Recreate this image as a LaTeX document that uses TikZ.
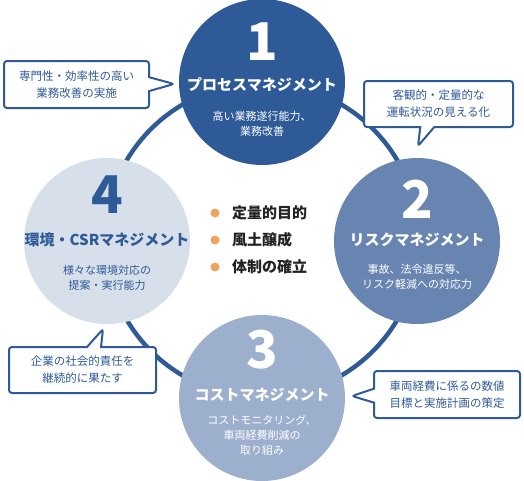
\documentclass[tikz,border=0pt]{standalone}
\usepackage{fontspec}
\setmainfont{Noto Sans CJK JP}
\usepackage{tikz}
\usetikzlibrary{shapes.callouts,positioning}
\definecolor{navy}{HTML}{2E5B98}
\definecolor{steel}{HTML}{6885B2}
\definecolor{haze}{HTML}{9CAFCC}
\definecolor{mist}{HTML}{D7DFEA}
\definecolor{dotorange}{HTML}{F0A35A}
\definecolor{ink}{HTML}{222222}

\begin{document}
\begin{tikzpicture}[x=1pt, y=-1pt,
  ring/.style={circle, draw=navy, line width=4.5pt, minimum size=314pt, inner sep=0pt},
  stage/.style={circle, minimum size=166pt, inner sep=0pt},
  num/.style={font=\bfseries\fontsize{52}{52}\selectfont, inner sep=0pt},
  title/.style={font=\bfseries\fontsize{15}{15}\selectfont, inner sep=0pt},
  sub/.style={font=\fontsize{11}{15}\selectfont, align=center, inner sep=0pt},
  note/.style={rectangle callout, draw=navy, line width=2pt, fill=white, rounded corners=3pt,
    text=navy, font=\fontsize{11.5}{17}\selectfont, align=center,
    callout pointer width=14pt, inner sep=0pt},
  dot/.style={circle, fill=dotorange, minimum size=9pt, inner sep=0pt},
  goal/.style={font=\bfseries\fontsize{15}{15}\selectfont, text=ink, anchor=west, inner sep=0pt}]
  \useasboundingbox (0,0) rectangle (524,480);

  \node[ring] (ring) at (262,240) {};

  \node[stage, fill=navy] (s1) at (262,82) {};
  \node[stage, fill=steel] (s2) at (417,241) {};
  \node[stage, fill=haze] (s3) at (262,398) {};
  \node[stage, fill=mist] (s4) at (107,241) {};

  \node[num, text=white] (n1) at (262,42) {1};
  \node[title, text=white] (t1) at (262,85) {プロセスマネジメント};
  \node[sub, text=white] (d1) at (262,124) {高い業務遂行能力、\\業務改善};

  \node[num, text=white] (n2) at (417,199) {2};
  \node[title, text=white] (t2) at (417,240) {リスクマネジメント};
  \node[sub, text=white] (d2) at (417,277) {事故、法令違反等、\\リスク軽減への対応力};

  \node[num, text=white] (n3) at (262,350) {3};
  \node[title, text=white] (t3) at (262,395) {コストマネジメント};
  \node[sub, text=white] (d3) at (262,435) {コストモニタリング、\\車両経費削減の\\取り組み};

  \node[num, text=navy] (n4) at (107,195) {4};
  \node[title, text=navy] (t4) at (107,240) {環境・CSRマネジメント};
  \node[sub, text=navy] (d4) at (107,278) {様々な環境対応の\\提案・実行能力};

  \node[dot] (b1) at (215,213) {};
  \node[dot] (b2) at (215,240) {};
  \node[dot] (b3) at (215,267) {};
  \node[goal] (g1) at (232,213) {定量的目的};
  \node[goal] (g2) at (232,240) {風土醸成};
  \node[goal] (g3) at (232,267) {体制の確立};

  \coordinate (tip1) at (174,84);
  \coordinate (tip2) at (418,146);
  \coordinate (tip3) at (352,396);
  \coordinate (tip4) at (103,329);

  \node[note, minimum width=145pt, minimum height=47pt, callout absolute pointer={(tip1)}]
    (c1) at (76.5,84.5) {専門性・効率性の高い\\業務改善の実施};
  \node[note, minimum width=149pt, minimum height=46pt, callout absolute pointer={(tip2)}]
    (c2) at (438.5,104) {客観的・定量的な\\運転状況の見える化};
  \node[note, minimum width=146pt, minimum height=47pt, callout absolute pointer={(tip3)}]
    (c3) at (447,394.5) {車両経費に係るの数値\\目標と実施計画の策定};
  \node[note, minimum width=147pt, minimum height=46pt, callout absolute pointer={(tip4)}]
    (c4) at (82.5,370) {企業の社会的責任を\\継続的に果たす};
\end{tikzpicture}
\end{document}
